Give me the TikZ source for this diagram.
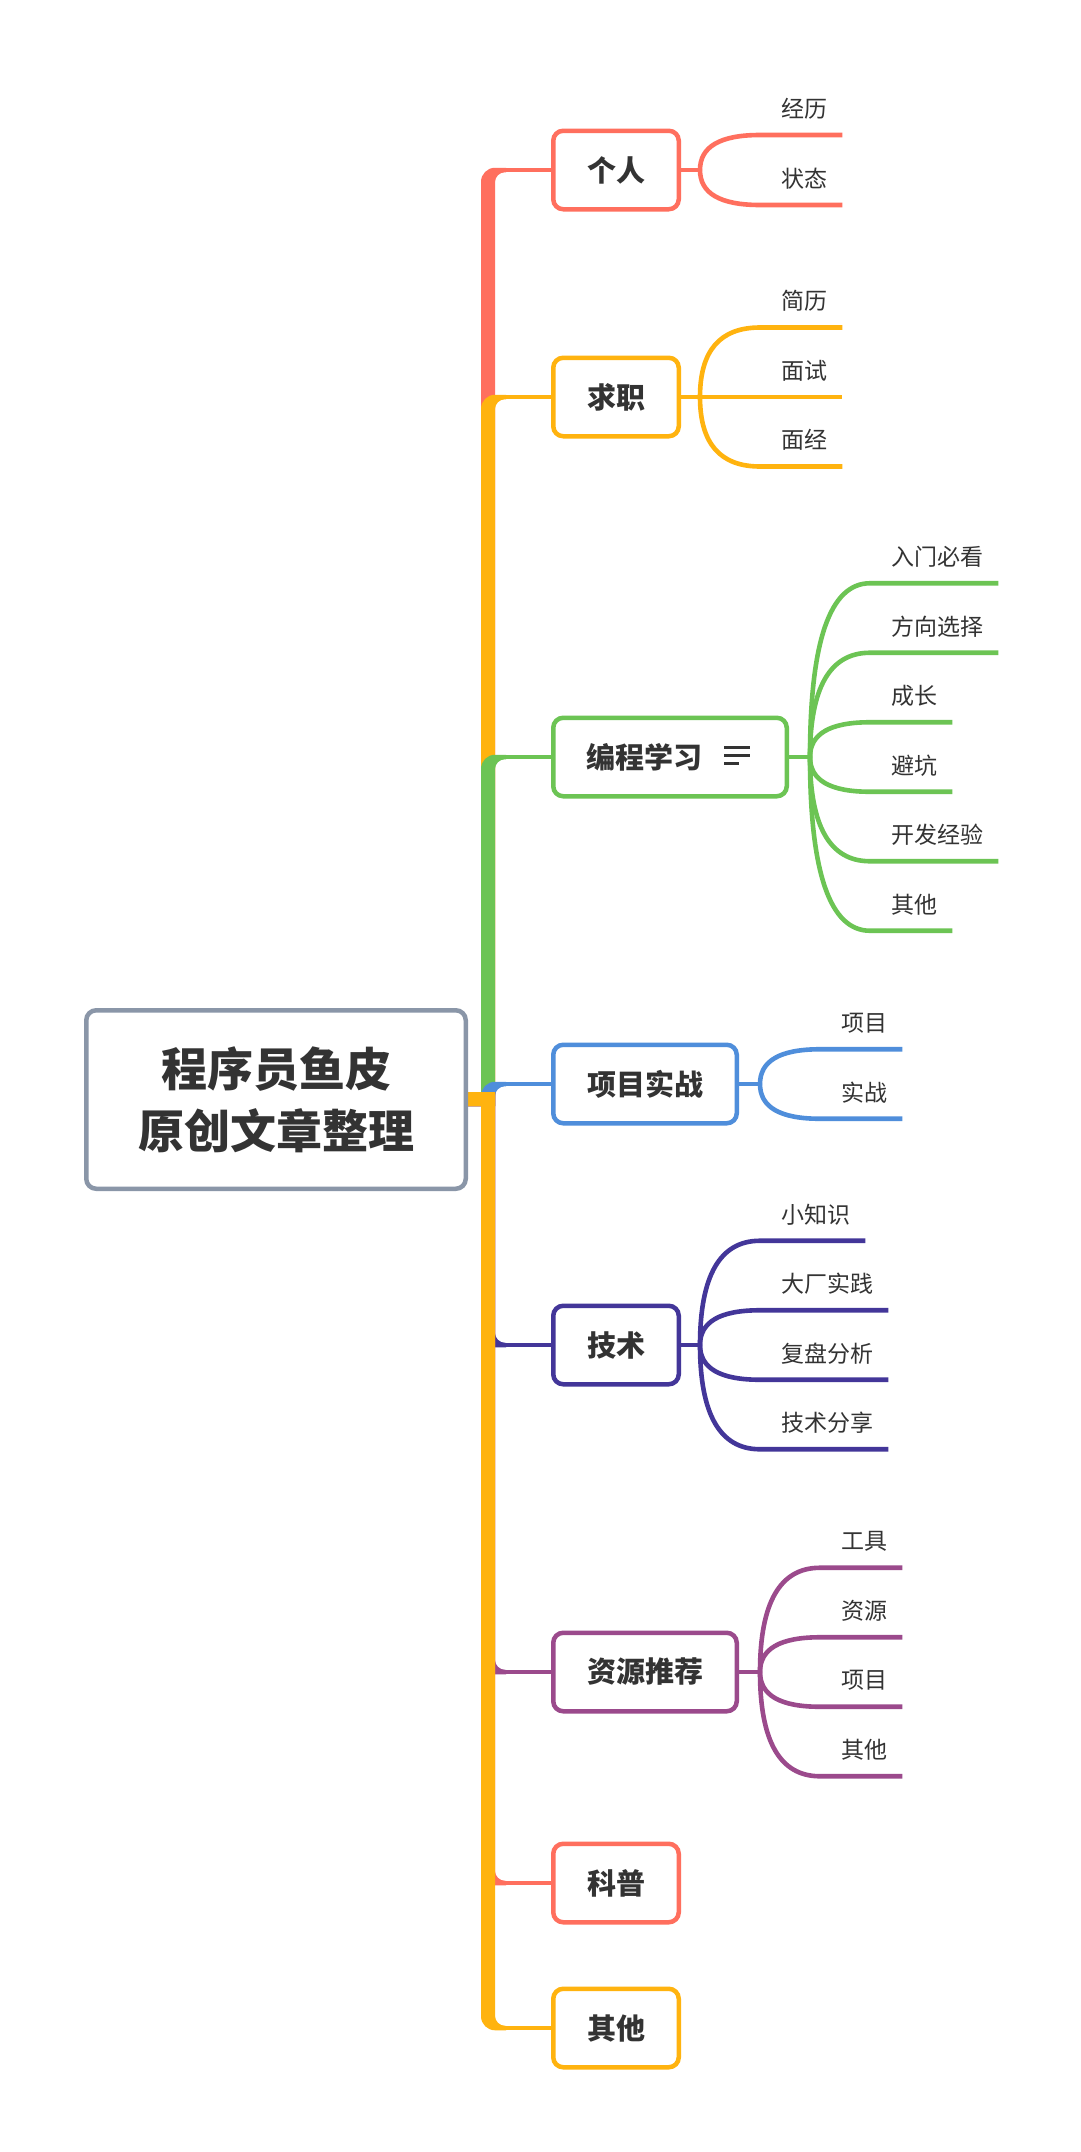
\documentclass[tikz,border=0pt]{standalone}
\usepackage{fontspec}
\setmainfont{Noto Sans CJK SC}
\usetikzlibrary{calc}
\definecolor{cred}{HTML}{FF6F5E}
\definecolor{corange}{HTML}{FFB30F}
\definecolor{cgreen}{HTML}{6CC454}
\definecolor{cblue}{HTML}{4F8EDB}
\definecolor{cindigo}{HTML}{433699}
\definecolor{cmag}{HTML}{9B4A8C}
\definecolor{croot}{HTML}{8A96A8}
\definecolor{txt}{HTML}{333333}
% thick trunk piece from root up to a branch at y=#2
\newcommand{\trunkup}[2]{%
  \fill[#1] (466,1092) -- (481,1092) -- (481,#2-2.25+14)
    .. controls (481,#2-2.25+6.3) and (487.3,#2-2.25) .. (495,#2-2.25)
    -- (506,#2-2.25) -- (506,#2+2.25) -- (505,#2+2.25)
    .. controls (499.5,#2+2.25) and (495,#2+2.25+4.5) .. (495,#2+2.25+10)
    -- (495,1106) -- (466,1106) -- cycle;}
% thick trunk piece from root down to a branch at y=#2
\newcommand{\trunkdown}[2]{%
  \fill[#1] (466,1106) -- (481,1106) -- (481,#2+2.25-14)
    .. controls (481,#2+2.25-6.3) and (487.3,#2+2.25) .. (495,#2+2.25)
    -- (506,#2+2.25) -- (506,#2-2.25) -- (505,#2-2.25)
    .. controls (499.5,#2-2.25) and (495,#2-2.25-4.5) .. (495,#2-2.25-10)
    -- (495,1092) -- (466,1092) -- cycle;}
% leaf: #1 colour, #2 branch x, #3 parent y, #4 leaf y, #5 text, #6 name
\newcommand{\leafline}[6]{%
  \node[leaftext] (#6) at (#2+81,#4-26.5) {#5};
  \coordinate (#6s) at (#2+60,#4);
  \draw[#1,thinline] (#2,#3) .. controls (#2,{#3+0.667*(#4-#3)}) and (#2+20,#4) .. (#6s)
    -- ($(#6.east |- #6s)+(15,0)$);}
\begin{document}
\begin{tikzpicture}[x=1pt,y=-1pt,
  box/.style={draw, line width=4.5pt, rounded corners=10pt, fill=white,
    minimum height=78.5pt, inner sep=0pt, text=txt,
    font=\fontsize{29}{34}\selectfont\bfseries},
  boxtext/.style={inner sep=0pt, text=txt, font=\fontsize{29}{34}\selectfont\bfseries},
  rootbox/.style={draw=croot, line width=4.5pt, rounded corners=10pt, fill=white,
    minimum width=379.5pt, minimum height=178.5pt, inner sep=0pt, align=center, text=txt,
    font=\fontsize{46}{62}\selectfont\bfseries},
  leaftext/.style={inner sep=0pt, anchor=west, text=txt, font=\fontsize{23}{28}\selectfont},
  thinline/.style={line width=4.6pt},
  iconline/.style={txt, line width=3pt},
]
\useasboundingbox (0,0) rectangle (1080,2152);
\fill[white] (0,0) rectangle (1080,2152);

% ---- trunk (drawn in branch order, later on top)
\trunkup{cred}{170}
\trunkup{corange}{397}
\trunkup{cgreen}{757}
\trunkup{cblue}{1084}
\trunkdown{cindigo}{1345}
\trunkdown{cmag}{1672}
\trunkdown{cred}{1883}
\trunkdown{corange}{2028}

% ---- trunk ends of the thin branch lines
\coordinate (gr-t) at (503,170);
\coordinate (qz-t) at (503,397);
\coordinate (bc-t) at (503,757);
\coordinate (xm-t) at (503,1084);
\coordinate (js-t) at (503,1345);
\coordinate (zy-t) at (503,1672);
\coordinate (kp-t) at (503,1883);
\coordinate (qt-t) at (503,2028);

% ---- branch points of the leaves
\coordinate (gr-b) at (702,170);
\coordinate (qz-b) at (702,397);
\coordinate (bc-b) at (812,757);
\coordinate (xm-b) at (762,1084);
\coordinate (js-b) at (702,1345);
\coordinate (zy-b) at (762,1672);

% ---- leaves
\leafline{cred}{700}{170}{170-35}{经历}{gr1}
\leafline{cred}{700}{170}{170+35}{状态}{gr2}

\leafline{corange}{700}{397}{397-69.5}{简历}{qz1}
\leafline{corange}{700}{397}{397}{面试}{qz2}
\leafline{corange}{700}{397}{397+69.5}{面经}{qz3}

\leafline{cgreen}{810}{757}{757-173.75}{入门必看}{bc1}
\leafline{cgreen}{810}{757}{757-104.25}{方向选择}{bc2}
\leafline{cgreen}{810}{757}{757-34.75}{成长}{bc3}
\leafline{cgreen}{810}{757}{757+34.75}{避坑}{bc4}
\leafline{cgreen}{810}{757}{757+104.25}{开发经验}{bc5}
\leafline{cgreen}{810}{757}{757+173.75}{其他}{bc6}

\leafline{cblue}{760}{1084}{1084-34.75}{项目}{xm1}
\leafline{cblue}{760}{1084}{1084+34.75}{实战}{xm2}

\leafline{cindigo}{700}{1345}{1345-104.25}{小知识}{js1}
\leafline{cindigo}{700}{1345}{1345-34.75}{大厂实践}{js2}
\leafline{cindigo}{700}{1345}{1345+34.75}{复盘分析}{js3}
\leafline{cindigo}{700}{1345}{1345+104.25}{技术分享}{js4}

\leafline{cmag}{760}{1672}{1672-104.25}{工具}{zy1}
\leafline{cmag}{760}{1672}{1672-34.75}{资源}{zy2}
\leafline{cmag}{760}{1672}{1672+34.75}{项目}{zy3}
\leafline{cmag}{760}{1672}{1672+104.25}{其他}{zy4}

% ---- boxes
\node[box, draw=cred,    minimum width=125.5pt] (gr) at (616,170) {个人};
\node[box, draw=corange, minimum width=125.5pt] (qz) at (616,397) {求职};
\node[box, draw=cgreen,  minimum width=233.5pt] (bc) at (670,757) {};
\node[boxtext, anchor=west] (bctext) at ($(bc.west)+(35,0)$) {编程学习};
\node[box, draw=cblue,   minimum width=183.5pt] (xm) at (645,1084) {项目实战};
\node[box, draw=cindigo, minimum width=125.5pt] (js) at (616,1345) {技术};
\node[box, draw=cmag,    minimum width=183.5pt] (zy) at (645,1672) {资源推荐};
\node[box, draw=cred,    minimum width=125.5pt] (kp) at (616,1883) {科普};
\node[box, draw=corange, minimum width=125.5pt] (qt) at (616,2028) {其他};

% note icon
\draw[iconline] (724,747) -- (750,747);
\draw[iconline] (724,755) -- (750,755);
\draw[iconline] (724,763) -- (739,763);

% ---- thin lines trunk -> box, box -> branch point
\draw[cred,thinline] (gr-t) -- (gr);
\draw[corange,thinline] (qz-t) -- (qz);
\draw[cgreen,thinline] (bc-t) -- (bc);
\draw[cblue,thinline] (xm-t) -- (xm);
\draw[cindigo,thinline] (js-t) -- (js);
\draw[cmag,thinline] (zy-t) -- (zy);
\draw[cred,thinline] (kp-t) -- (kp);
\draw[corange,thinline] (qt-t) -- (qt);

\draw[cred,thinline] (gr) -- (gr-b);
\draw[corange,thinline] (qz) -- (qz-b);
\draw[cgreen,thinline] (bc) -- (bc-b);
\draw[cblue,thinline] (xm) -- (xm-b);
\draw[cindigo,thinline] (js) -- (js-b);
\draw[cmag,thinline] (zy) -- (zy-b);

% ---- root
\node[rootbox] (root) at (276,1099.5) {程序员鱼皮\\原创文章整理};
\end{tikzpicture}
\end{document}
